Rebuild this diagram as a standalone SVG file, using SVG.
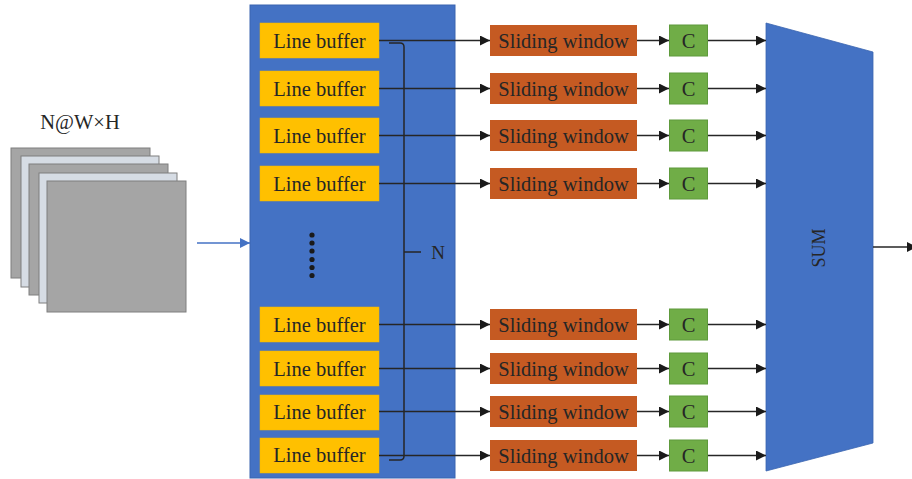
<svg xmlns="http://www.w3.org/2000/svg" width="912" height="479" viewBox="0 0 912 479">
<defs>
<style>
.t{font-family:"Liberation Serif","DejaVu Serif",serif;fill:#262626;font-size:20.5px;text-anchor:middle;dominant-baseline:central}
.lb{fill:#FFC000;stroke:#F2B800;stroke-width:0.5}
.sw{fill:#C55A22}
.c{fill:#70AD47;stroke:#5E9A3C;stroke-width:1}
.ln{stroke:#262626;stroke-width:1.5;fill:none}
.img1{fill:#A5A5A5;stroke:#7F7F7F;stroke-width:1}
.img2{fill:#D6DCE4;stroke:#7F7F7F;stroke-width:1}
</style>
<marker id="ah" viewBox="0 0 10 10" refX="10" refY="5" markerWidth="10" markerHeight="10" markerUnits="userSpaceOnUse" orient="auto">
<path d="M0,0 L10,5 L0,10 z" fill="#1a1a1a"/>
</marker>
<marker id="ahb" viewBox="0 0 10 10" refX="10" refY="5" markerWidth="10" markerHeight="10" markerUnits="userSpaceOnUse" orient="auto">
<path d="M0,0 L10,5 L0,10 z" fill="#4472C4"/>
</marker>
</defs>
<rect width="912" height="479" fill="#fff"/>

<g id="input">
<text class="t" x="80" y="122" font-size="20.5">N@W×H</text>
<rect class="img1" x="11" y="148" width="139" height="130"/>
<rect class="img2" x="21" y="156" width="138" height="131"/>
<rect class="img1" x="29" y="164" width="139" height="131"/>
<rect class="img2" x="39" y="173" width="138" height="130"/>
<rect class="img1" x="47" y="181" width="139" height="131"/>
</g>

<g id="buffer-block">
<rect x="250" y="5" width="205" height="473" fill="#4472C4" stroke="#3A64B0" stroke-width="1"/>
<g fill="#1a1a1a">
<circle cx="312" cy="235" r="2.6"/>
<circle cx="312" cy="243" r="2.6"/>
<circle cx="312" cy="251" r="2.6"/>
<circle cx="312" cy="259.5" r="2.6"/>
<circle cx="312" cy="267.5" r="2.6"/>
<circle cx="312" cy="275.5" r="2.6"/>
</g>
</g>

<g id="lb1"><rect class="lb" x="260" y="23" width="119" height="35"/><text class="t" x="319.5" y="40.5">Line buffer</text></g>
<g id="lb2"><rect class="lb" x="260" y="71" width="119" height="35"/><text class="t" x="319.5" y="88.5">Line buffer</text></g>
<g id="lb3"><rect class="lb" x="260" y="118" width="119" height="35"/><text class="t" x="319.5" y="135.5">Line buffer</text></g>
<g id="lb4"><rect class="lb" x="260" y="166" width="119" height="35"/><text class="t" x="319.5" y="183.5">Line buffer</text></g>
<g id="lb5"><rect class="lb" x="260" y="307" width="119" height="35"/><text class="t" x="319.5" y="324.5">Line buffer</text></g>
<g id="lb6"><rect class="lb" x="260" y="351" width="119" height="35"/><text class="t" x="319.5" y="368.5">Line buffer</text></g>
<g id="lb7"><rect class="lb" x="260" y="395" width="119" height="35"/><text class="t" x="319.5" y="412">Line buffer</text></g>
<g id="lb8"><rect class="lb" x="260" y="438" width="119" height="35"/><text class="t" x="319.5" y="455">Line buffer</text></g>

<g id="sw1"><rect class="sw" x="490" y="25" width="147" height="31"/><text class="t" x="563.5" y="40.5">Sliding window</text></g>
<g id="sw2"><rect class="sw" x="490" y="73" width="147" height="31"/><text class="t" x="563.5" y="88.5">Sliding window</text></g>
<g id="sw3"><rect class="sw" x="490" y="120" width="147" height="31"/><text class="t" x="563.5" y="135.5">Sliding window</text></g>
<g id="sw4"><rect class="sw" x="490" y="168" width="147" height="31"/><text class="t" x="563.5" y="183.5">Sliding window</text></g>
<g id="sw5"><rect class="sw" x="490" y="309" width="147" height="31"/><text class="t" x="563.5" y="324.5">Sliding window</text></g>
<g id="sw6"><rect class="sw" x="490" y="353" width="147" height="31"/><text class="t" x="563.5" y="368.5">Sliding window</text></g>
<g id="sw7"><rect class="sw" x="490" y="396" width="147" height="31"/><text class="t" x="563.5" y="411.5">Sliding window</text></g>
<g id="sw8"><rect class="sw" x="490" y="440" width="147" height="31"/><text class="t" x="563.5" y="455.5">Sliding window</text></g>

<g id="c1"><rect class="c" x="669.5" y="25" width="38" height="31"/><text class="t" x="688.5" y="40.5">C</text></g>
<g id="c2"><rect class="c" x="669.5" y="73" width="38" height="31"/><text class="t" x="688.5" y="88.5">C</text></g>
<g id="c3"><rect class="c" x="669.5" y="120" width="38" height="31"/><text class="t" x="688.5" y="135.5">C</text></g>
<g id="c4"><rect class="c" x="669.5" y="168" width="38" height="31"/><text class="t" x="688.5" y="183.5">C</text></g>
<g id="c5"><rect class="c" x="669.5" y="309" width="38" height="31"/><text class="t" x="688.5" y="324.5">C</text></g>
<g id="c6"><rect class="c" x="669.5" y="353" width="38" height="31"/><text class="t" x="688.5" y="368.5">C</text></g>
<g id="c7"><rect class="c" x="669.5" y="396" width="38" height="31"/><text class="t" x="688.5" y="411.5">C</text></g>
<g id="c8"><rect class="c" x="669.5" y="440" width="38" height="31"/><text class="t" x="688.5" y="455.5">C</text></g>

<g id="sum">
<path d="M766,23 L873,52 L873,443 L766,471 Z" fill="#4472C4" stroke="#3A64B0" stroke-width="0.8"/>
<text class="t" transform="translate(819,248) rotate(-90)" style="font-size:18px">SUM</text>
</g>

<g id="bracket">
<path class="ln" d="M389,43 L400,43 Q404,43 404,47 L404,456 Q404,460 400,460 L389,460"/>
<path class="ln" d="M404,252 L421,252"/>
<text class="t" x="438" y="252" style="font-size:19px">N</text>
</g>

<g id="connectors">
<path class="ln" d="M197,243 L250,243" style="stroke:#4472C4" marker-end="url(#ahb)"/>
<path class="ln" d="M379,40.5 L490,40.5" marker-end="url(#ah)"/>
<path class="ln" d="M379,88.5 L490,88.5" marker-end="url(#ah)"/>
<path class="ln" d="M379,135.5 L490,135.5" marker-end="url(#ah)"/>
<path class="ln" d="M379,183.5 L490,183.5" marker-end="url(#ah)"/>
<path class="ln" d="M379,324.5 L490,324.5" marker-end="url(#ah)"/>
<path class="ln" d="M379,368.5 L490,368.5" marker-end="url(#ah)"/>
<path class="ln" d="M379,411.5 L490,411.5" marker-end="url(#ah)"/>
<path class="ln" d="M379,455.5 L490,455.5" marker-end="url(#ah)"/>
<path class="ln" d="M637,40.5 L669,40.5" marker-end="url(#ah)"/>
<path class="ln" d="M637,88.5 L669,88.5" marker-end="url(#ah)"/>
<path class="ln" d="M637,135.5 L669,135.5" marker-end="url(#ah)"/>
<path class="ln" d="M637,183.5 L669,183.5" marker-end="url(#ah)"/>
<path class="ln" d="M637,324.5 L669,324.5" marker-end="url(#ah)"/>
<path class="ln" d="M637,368.5 L669,368.5" marker-end="url(#ah)"/>
<path class="ln" d="M637,411.5 L669,411.5" marker-end="url(#ah)"/>
<path class="ln" d="M637,455.5 L669,455.5" marker-end="url(#ah)"/>
<path class="ln" d="M708,40.5 L766,40.5" marker-end="url(#ah)"/>
<path class="ln" d="M708,88.5 L766,88.5" marker-end="url(#ah)"/>
<path class="ln" d="M708,135.5 L766,135.5" marker-end="url(#ah)"/>
<path class="ln" d="M708,183.5 L766,183.5" marker-end="url(#ah)"/>
<path class="ln" d="M708,324.5 L766,324.5" marker-end="url(#ah)"/>
<path class="ln" d="M708,368.5 L766,368.5" marker-end="url(#ah)"/>
<path class="ln" d="M708,411.5 L766,411.5" marker-end="url(#ah)"/>
<path class="ln" d="M708,455.5 L766,455.5" marker-end="url(#ah)"/>
<path class="ln" d="M873,247 L917,247" marker-end="url(#ah)"/>
</g>
</svg>
